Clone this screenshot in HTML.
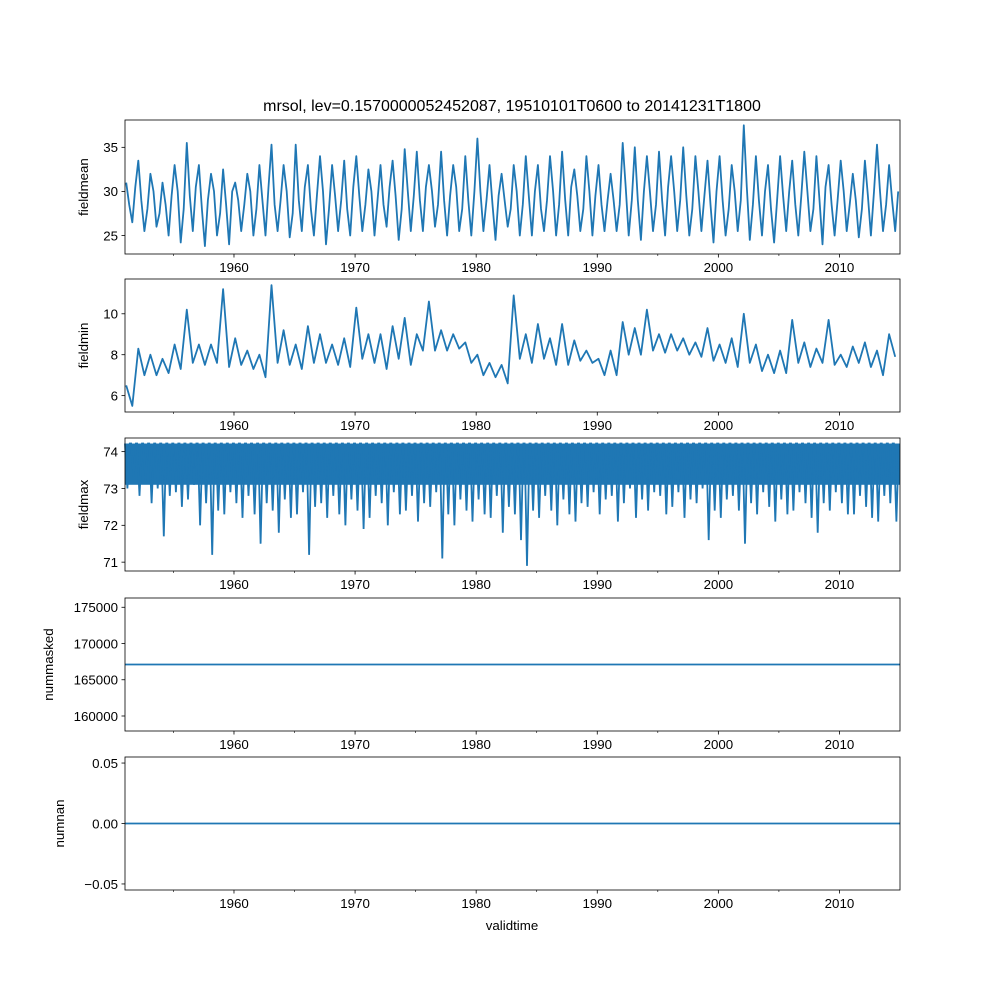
<!DOCTYPE html>
<html><head><meta charset="utf-8">
<style>
html,body{margin:0;padding:0;background:#fff;}
svg{display:block;font-family:"Liberation Sans","DejaVu Sans",sans-serif;}
</style></head>
<body>
<svg id="fig" width="1000" height="1000" viewBox="0 0 1000 1000" xmlns="http://www.w3.org/2000/svg">
<rect width="1000" height="1000" fill="#fff"/>
<text x="512" y="111" text-anchor="middle" font-size="16">mrsol, lev=0.1570000052452087, 19510101T0600 to 20141231T1800</text>
<text x="512" y="930" text-anchor="middle" font-size="13.3">validtime</text>
</svg>
<script>
// ---- data ----
const xMajorTicks = [1960, 1970, 1980, 1990, 2000, 2010];
const xMinorTicks = [1955, 1965, 1975, 1985, 1995, 2005];
const startYear = 1951;
// fieldmean: [peak, trough] per year 1951-2014
const fieldmeanValues = [
31,26.5, 33.5,25.5, 32,26, 31,25, 33,24.2, 35.5,25.5, 33,23.8, 32,25, 32.5,24, 31,25.5,
32,25, 33,25, 35.3,25.5, 33,24.8, 35.3,25.5, 33,25, 34,24, 33,25.5, 33.5,25, 34,25.5,
32.5,25, 33,26, 33.5,24.5, 34.8,25.5, 34.5,25.5, 33,26, 34.5,25, 33,25.5, 34,25, 36,25.5,
33,24.5, 32,26, 33,25, 34,25, 33,25.5, 34,25, 34.5,25, 32.5,25.5, 34,25, 33,25.5,
32,25.5, 35.5,25, 35,24.5, 34,25.5, 34.5,25, 34,25.5, 35,25, 34,25.5, 33.5,24.2, 34,25,
33,25.5, 37.5,24.5, 34,25, 33,24.2, 34,25.5, 33.5,25, 34.5,25.5, 34,24, 33,25, 33.5,25.5,
32,24.8, 33.5,25, 35.3,25.5, 33,25.5];
// fieldmean intermediate values (two per year, after peak and after trough)
const fieldmeanMidValues = [
28.5,30.5, 29,28, 30,27.5, 28.5,29.5, 30,28, 29.5,30.5, 28,29, 30,27.5, 28.5,30, 29,28.5,
30,28, 29,30.5, 28.5,29, 30,27.5, 29,30.5, 28,29.5, 30,28, 29.5,29, 28,30.5, 29.5,28.5,
30,29, 28.5,30.5, 29.5,28, 30,29.5, 29,30.5, 30,28.5, 29,29.5, 30.5,28, 29,30, 30,29,
28.5,29.5, 29,28, 30,28.5, 29.5,30, 28,29, 30,28.5, 29,30.5, 29.5,28, 30,29.5, 28.5,29,
29,28.5, 30.5,29, 29,30, 30,28.5, 29,30.5, 30,29, 29.5,28, 30,29.5, 28.5,30, 29,28,
30,29, 30.5,28.5, 29,30, 28,29, 29.5,30, 28.5,29.5, 30,28, 29,30.5, 28.5,29, 30,28.5,
29,28, 29.5,30, 30,28.5, 29,30];
const fieldmeanTicks = [25, 30, 35];
// fieldmin: [high, low] per year
const fieldminValues = [
6.5,5.5, 8.3,7.0, 8.0,7.0, 7.8,7.1, 8.5,7.3, 10.2,7.6, 8.5,7.5, 8.5,7.6, 11.2,7.4, 8.8,7.5,
8.2,7.3, 8.0,6.9, 11.4,7.6, 9.2,7.5, 8.5,7.3, 9.4,7.6, 9.0,7.6, 8.5,7.5, 8.8,7.4, 10.3,7.8,
9.0,7.6, 9.0,7.3, 9.4,7.8, 9.8,7.5, 9.0,8.2, 10.6,8.2, 9.2,8.2, 9.0,8.3, 8.6,7.6, 8.0,7.0,
7.6,6.9, 7.5,6.6, 10.9,7.8, 9.0,7.6, 9.5,7.8, 8.8,7.5, 9.5,7.5, 8.7,7.7, 8.2,7.6, 7.8,7.0,
8.2,7.0, 9.6,8.0, 9.3,8.0, 10.2,8.2, 9.0,8.1, 9.0,8.2, 8.8,8.0, 8.6,7.9, 9.3,7.7, 8.5,7.6,
8.8,7.4, 10.0,7.6, 8.5,7.2, 8.0,7.1, 8.2,7.1, 9.7,7.6, 8.6,7.4, 8.3,7.6, 9.7,7.5, 8.0,7.4,
8.4,7.6, 8.6,7.4, 8.2,7.0, 9.0,7.9];
const fieldminTicks = [6, 8, 10];
// fieldmax: ceiling, and half-year spike lows
const fieldmaxCeiling = [74.22];
const fieldmaxLows = [
73.0,73.3, 72.8,73.2, 72.6,73.0, 71.7,72.8, 72.9,72.5, 72.7,73.1, 72.0,72.6, 71.2,72.4, 72.3,72.9, 72.6,72.2,
72.8,72.3, 71.5,72.6, 72.4,71.8, 72.7,72.2, 72.3,72.9, 71.2,72.5, 72.6,72.2, 72.8,72.3, 72.0,72.7, 72.4,71.9,
72.2,72.8, 72.6,72.0, 72.9,72.3, 72.4,72.8, 72.1,72.6, 72.5,72.9, 71.1,72.3, 72.0,72.7, 72.4,72.1, 72.7,72.3,
72.2,72.8, 71.8,72.5, 72.3,71.6, 70.9,72.4, 72.2,72.8, 72.4,72.0, 72.7,72.3, 72.1,72.6, 72.5,72.9, 72.3,72.7,
72.8,72.1, 72.6,73.0, 72.2,72.7, 72.4,72.9, 72.8,72.3, 72.5,72.9, 72.2,72.7, 72.6,73.0, 71.6,72.4, 72.2,72.7,
72.8,72.4, 71.5,72.6, 72.3,72.9, 72.5,72.1, 72.7,72.3, 72.4,72.9, 72.6,72.2, 71.8,72.6, 72.4,72.9, 72.6,72.3,
72.3,72.8, 72.5,72.2, 72.1,72.8, 72.6,72.1];
const fieldmaxBase = [73.1];
const fieldmaxTicks = [71, 72, 73, 74];
const nummaskedValues = [167100, 167100];
const nummaskedTicks = [160000, 165000, 170000, 175000];
const numnanValues = [0, 0];
const numnanTicks = [-0.05, 0.00, 0.05];

// ---- layout ----
const NS = "http://www.w3.org/2000/svg";
const svg = document.getElementById('fig');
const L = 125, R = 900, YR0 = 1951, YR1 = 2015;
const xs = t => L + (t - YR0) / (YR1 - YR0) * (R - L);
const BLUE = "#1f77b4";
function mk(tag, attrs, parent) {
  const e = document.createElementNS(NS, tag);
  for (const k in attrs) e.setAttribute(k, attrs[k]);
  (parent || svg).appendChild(e);
  return e;
}
function panel(name, top, bot, ymin, ymax, ticks, fmt, title, titleX) {
  const g = mk('g', {});
  
  
  const ys = v => bot - (v - ymin) / (ymax - ymin) * (bot - top);
  for (const t of ticks) {
    const y = ys(t);
    const tk = mk('line', {x1: L - 3.5, x2: L, y1: y, y2: y, stroke: '#000', 'stroke-width': 0.8}, g);
    
    
    const tl = mk('text', {x: L - 7, y: y + 4.8, 'text-anchor': 'end', 'font-size': 13.3}, g);
    
    
    tl.textContent = fmt(t);
  }
  for (const t of xMajorTicks) {
    const x = xs(t);
    const tk = mk('line', {x1: x, x2: x, y1: bot, y2: bot + 3.5, stroke: '#000', 'stroke-width': 0.8}, g);
    
    
    const tl = mk('text', {x: x, y: bot + 18, 'text-anchor': 'middle', 'font-size': 13.3}, g);
    
    
    tl.textContent = t;
  }
  for (const t of xMinorTicks) {
    const x = xs(t);
    const tk = mk('line', {x1: x, x2: x, y1: bot, y2: bot + 2, stroke: '#000', 'stroke-width': 0.6}, g);
    
    
  }
  const yt = mk('text', {x: titleX, y: (top + bot) / 2, 'text-anchor': 'middle', 'font-size': 13.3,
    transform: 'rotate(-90 ' + titleX + ' ' + (top + bot) / 2 + ')'}, g);
  
  
  yt.textContent = title;
  return {g, ys, top, bot};
}
function frame(p, name) {
  const f = mk('rect', {x: L, y: p.top, width: R - L, height: p.bot - p.top, fill: 'none', stroke: '#000', 'stroke-width': 0.8}, p.g);
  
  
}
function pairLine(p, name, vals, mids) {
  let d = '';
  let first = true;
  vals.forEach((v, i) => {
    const t = startYear + i * 0.5 + 0.1;
    d += (first ? 'M' : 'L') + xs(t).toFixed(1) + ',' + p.ys(v).toFixed(1);
    first = false;
    if (mids) d += 'L' + xs(t + 0.25).toFixed(1) + ',' + p.ys(mids[i]).toFixed(1);
  });
  const path = mk('path', {d, fill: 'none', stroke: BLUE, 'stroke-width': 1.8, 'stroke-linejoin': 'round'}, p.g);
  
  
}

// fieldmean
const p1 = panel('fieldmean', 120, 254, 22.9, 38.1, fieldmeanTicks, v => String(v), 'fieldmean', 88);
pairLine(p1, 'fieldmean', fieldmeanValues, fieldmeanMidValues);
frame(p1, 'fieldmean');

// fieldmin
const p2 = panel('fieldmin', 279, 412, 5.2, 11.7, fieldminTicks, v => String(v), 'fieldmin', 88);
pairLine(p2, 'fieldmin', fieldminValues, null);
frame(p2, 'fieldmin');

// fieldmax
const p3 = panel('fieldmax', 438, 571, 70.76, 74.37, fieldmaxTicks, v => String(v), 'fieldmax', 88);
{
  const band = mk('rect', {x: xs(YR0), y: p3.ys(fieldmaxCeiling[0]), width: xs(YR1) - xs(YR0),
    height: p3.ys(fieldmaxBase[0]) - p3.ys(fieldmaxCeiling[0]), fill: BLUE}, p3.g);
  
  
  let d = '';
  fieldmaxLows.forEach((v, i) => {
    const t = startYear + i * 0.5;
    d += (i ? 'L' : 'M') + xs(t).toFixed(1) + ',' + p3.ys(fieldmaxCeiling[0]).toFixed(1);
    d += 'L' + xs(t + 0.2).toFixed(1) + ',' + p3.ys(v).toFixed(1);
    d += 'L' + xs(t + 0.4).toFixed(1) + ',' + p3.ys(fieldmaxCeiling[0]).toFixed(1);
  });
  const path = mk('path', {d, fill: 'none', stroke: BLUE, 'stroke-width': 1.8}, p3.g);
  
  
}
frame(p3, 'fieldmax');

// nummasked
const p4 = panel('nummasked', 598, 731, 157930, 176280, nummaskedTicks, v => String(v), 'nummasked', 53);
{
  const l = mk('line', {x1: xs(YR0), x2: xs(YR1), y1: p4.ys(nummaskedValues[0]), y2: p4.ys(nummaskedValues[1]), stroke: BLUE, 'stroke-width': 1.8}, p4.g);
  
  
}
frame(p4, 'nummasked');

// numnan
const p5 = panel('numnan', 757, 890, -0.055, 0.055, numnanTicks, v => (v < 0 ? '\u2212' : '') + Math.abs(v).toFixed(2), 'numnan', 64);
{
  const l = mk('line', {x1: xs(YR0), x2: xs(YR1), y1: p5.ys(numnanValues[0]), y2: p5.ys(numnanValues[1]), stroke: BLUE, 'stroke-width': 1.8}, p5.g);
  
  
}
frame(p5, 'numnan');
</script>
</body></html>
